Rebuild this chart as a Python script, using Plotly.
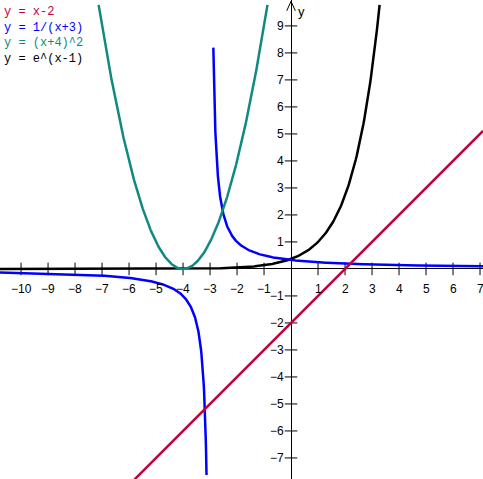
import numpy as np
import plotly.graph_objects as go

# View window (data units)
x_range = [-10.78, 7.11]
y_range = [-7.78, 9.96]

# Curve domains (as drawn in the reference)
line_domain = [-10.78, 7.11]          # y = x-2
hyp_left_domain = [-10.78, -3.131]    # y = 1/(x+3), left branch
hyp_right_domain = [-2.878, 7.11]     # y = 1/(x+3), right branch
par_domain = [-7.127, -0.873]         # y = (x+4)^2
exp_domain = [-10.78, 3.28]           # y = e^(x-1)

legend_labels = ["y = x-2", "y = 1/(x+3)", "y = (x+4)^2", "y = e^(x-1)"]
legend_colors = ["#c4003c", "#0000ff", "#108a80", "#000000"]

x_ticks = [-10, -9, -8, -7, -6, -5, -4, -3, -2, -1, 1, 2, 3, 4, 5, 6, 7]
y_ticks = [-7, -6, -5, -4, -3, -2, -1, 1, 2, 3, 4, 5, 6, 7, 8, 9]


def fmt(v):
    return ("\u2212" + str(-v)) if v < 0 else str(v)


fig = go.Figure()

# tick crosses on the axes
fig.add_trace(go.Scatter(x=x_ticks, y=[0] * len(x_ticks), mode="markers",
                         marker=dict(symbol="line-ns", size=9,
                                     line=dict(width=1, color="black")),
                         hoverinfo="skip", showlegend=False))
fig.add_trace(go.Scatter(x=[0] * len(y_ticks), y=y_ticks, mode="markers",
                         marker=dict(symbol="line-ew", size=9,
                                     line=dict(width=1, color="black")),
                         hoverinfo="skip", showlegend=False))

xe = np.linspace(*exp_domain, 400)
fig.add_trace(go.Scatter(x=xe, y=np.exp(xe - 1), mode="lines",
                         line=dict(color=legend_colors[3], width=2.5),
                         showlegend=False))

xl = np.linspace(*hyp_left_domain, 600)
fig.add_trace(go.Scatter(x=xl, y=1 / (xl + 3), mode="lines",
                         line=dict(color=legend_colors[1], width=2.5),
                         showlegend=False))
xr = np.concatenate([np.linspace(hyp_right_domain[0], -2.0, 400),
                     np.linspace(-2.0, hyp_right_domain[1], 300)])
fig.add_trace(go.Scatter(x=xr, y=1 / (xr + 3), mode="lines",
                         line=dict(color=legend_colors[1], width=2.5),
                         showlegend=False))

xp = np.linspace(*par_domain, 400)
fig.add_trace(go.Scatter(x=xp, y=(xp + 4) ** 2, mode="lines",
                         line=dict(color=legend_colors[2], width=2.5),
                         showlegend=False))

xs = np.array(line_domain)
fig.add_trace(go.Scatter(x=xs, y=xs - 2, mode="lines",
                         line=dict(color=legend_colors[0], width=2.5),
                         showlegend=False))

annotations = []
tick_font = dict(family="Liberation Sans", size=12, color="black")
for v in x_ticks:
    annotations.append(dict(x=v, y=0, text=fmt(v), showarrow=False,
                            xanchor="center", yanchor="top", yshift=-11,
                            font=tick_font))
for v in y_ticks:
    annotations.append(dict(x=0, y=v, text=fmt(v), showarrow=False,
                            xanchor="right", yanchor="middle", xshift=-5,
                            font=tick_font))
annotations.append(dict(x=0, y=y_range[1], text="y",
                        showarrow=False, xanchor="left", yanchor="top",
                        xshift=5, yshift=-2,
                        font=dict(family="Liberation Sans", size=13, color="black")))

for i, (lab, col) in enumerate(zip(legend_labels, legend_colors)):
    annotations.append(dict(x=0, y=1, xref="paper", yref="paper", text=lab,
                            showarrow=False, xanchor="left", yanchor="middle",
                            xshift=2, yshift=-12 - 15.7 * i,
                            font=dict(family="Liberation Mono", size=12, color=col)))

# arrow head at top of y axis
ah = 0.16
shapes = [
    dict(type="line", x0=0, y0=y_range[1] - 0.05, x1=-ah, y1=y_range[1] - 0.4,
         line=dict(color="black", width=1)),
    dict(type="line", x0=0, y0=y_range[1] - 0.05, x1=ah, y1=y_range[1] - 0.4,
         line=dict(color="black", width=1)),
]

fig.update_layout(
    width=483, height=479,
    margin=dict(l=0, r=0, t=0, b=0),
    paper_bgcolor="white", plot_bgcolor="white",
    annotations=annotations, shapes=shapes,
    xaxis=dict(range=x_range, showgrid=False, zeroline=True,
               zerolinecolor="black", zerolinewidth=1,
               showticklabels=False, ticks="", fixedrange=True),
    yaxis=dict(range=y_range, showgrid=False, zeroline=True,
               zerolinecolor="black", zerolinewidth=1,
               showticklabels=False, ticks="", fixedrange=True),
    showlegend=False,
)

fig.write_html("out.html", config={"displayModeBar": False})

# remove the browser's default page margin so the figure fills the window
with open("out.html", "r", encoding="utf-8") as f:
    html = f.read()
html = html.replace("<head>", "<head><style>html,body{margin:0;padding:0;overflow:hidden;}</style>", 1)
with open("out.html", "w", encoding="utf-8") as f:
    f.write(html)
